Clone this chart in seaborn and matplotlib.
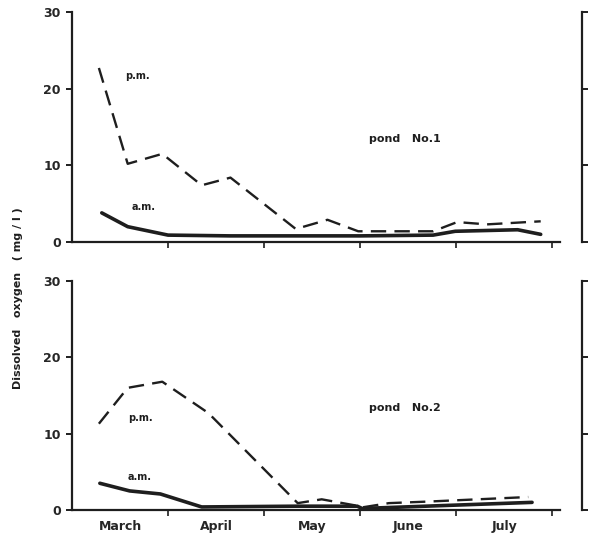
import numpy as np
import pandas as pd
import matplotlib
matplotlib.use("Agg")
import matplotlib.pyplot as plt
import seaborn as sns

# x positions in months after 1 March (0 = start of March)
months = ["March", "April", "May", "June", "July"]
yticks = [0, 10, 20, 30]

pond1_pm_x = [0.28, 0.58, 0.94, 1.35, 1.65, 2.33, 2.66, 2.98, 3.76, 4.01, 4.32, 4.88]
pond1_pm_y = [22.7, 10.2, 11.5, 7.4, 8.4, 1.7, 2.9, 1.4, 1.4, 2.6, 2.3, 2.7]
pond1_am_x = [0.31, 0.58, 1.00, 1.65, 2.34, 3.00, 3.76, 3.99, 4.64, 4.88]
pond1_am_y = [3.8, 2.0, 0.9, 0.8, 0.8, 0.8, 0.9, 1.4, 1.6, 1.0]

pond2_pm_x = [0.28, 0.58, 0.94, 1.42, 2.35, 2.60, 2.95, 3.00, 3.30, 3.70, 4.75]
pond2_pm_y = [11.3, 16.0, 16.8, 12.7, 0.9, 1.4, 0.6, 0.3, 0.9, 1.1, 1.7]
pond2_am_x = [0.29, 0.60, 0.92, 1.35, 2.34, 2.97, 3.02, 4.79]
pond2_am_y = [3.5, 2.5, 2.1, 0.4, 0.5, 0.5, 0.2, 1.0]

sns.set_style("ticks")
plt.rcParams['font.family'] = ['Liberation Sans Narrow', 'DejaVu Sans']
plt.rcParams['font.weight'] = 'bold'

ink = "#1e1e1e"
fig = plt.figure(figsize=(6.0, 5.39), dpi=100)
ax1 = fig.add_axes([0.12, 0.551, 0.85, 0.4267])
ax2 = fig.add_axes([0.12, 0.0538, 0.85, 0.425])


def draw_panel(ax, pm_x, pm_y, am_x, am_y, name, pm_pos, am_pos, show_months):
    pm = pd.DataFrame({"month": pm_x, "DO": pm_y})
    am = pd.DataFrame({"month": am_x, "DO": am_y})
    sns.lineplot(data=pm, x="month", y="DO", ax=ax, color=ink, lw=1.7,
                 linestyle=(0, (6.5, 3.5)), sort=False)
    sns.lineplot(data=am, x="month", y="DO", ax=ax, color=ink, lw=2.6, sort=False)
    ax.set_xlim(0, 5.31)
    ax.set_ylim(0, 30)
    ax.set_xlabel("")
    ax.set_ylabel("")
    ax.spines['top'].set_visible(False)
    ax.spines['bottom'].set_bounds(0, 5.08)
    for s in ax.spines.values():
        s.set_linewidth(1.6)
        s.set_color(ink)
    ax.set_yticks(yticks)
    ax.set_yticklabels([str(v) for v in yticks], fontsize=9, fontweight='bold')
    ax.set_xticks([1, 2, 3, 4, 5])
    ax.set_xticklabels([])
    ax.set_xticks([0.5, 1.5, 2.5, 3.5, 4.5], minor=True)
    if show_months:
        ax.set_xticklabels(months, minor=True, fontsize=9, fontweight='bold')
    ax.tick_params(axis='x', which='minor', length=0, pad=7)
    ax.tick_params(axis='x', which='major', length=4, width=1.2, color=ink)
    ax.tick_params(axis='y', length=4, width=1.4, color=ink, pad=4,
                   right=True, labelright=False)
    ax.text(pm_pos[0], pm_pos[1], "p.m.", fontsize=7, fontweight='bold', color=ink)
    ax.text(am_pos[0], am_pos[1], "a.m.", fontsize=7, fontweight='bold', color=ink)
    ax.text(3.47, 13.0, name, fontsize=8, fontweight='bold', color=ink, ha='center')
    ax.grid(False)


draw_panel(ax1, pond1_pm_x, pond1_pm_y, pond1_am_x, pond1_am_y,
           "pond   No.1", (0.55, 21.3), (0.62, 4.2), False)
draw_panel(ax2, pond2_pm_x, pond2_pm_y, pond2_am_x, pond2_am_y,
           "pond   No.2", (0.58, 11.6), (0.58, 3.9), True)

fig.text(0.03, 1 - 298 / 539, "Dissolved   oxygen   ( mg / l )", rotation=90,
         ha='center', va='center', fontsize=8, fontweight='bold', color=ink)

fig.savefig("out.png", dpi=100)
